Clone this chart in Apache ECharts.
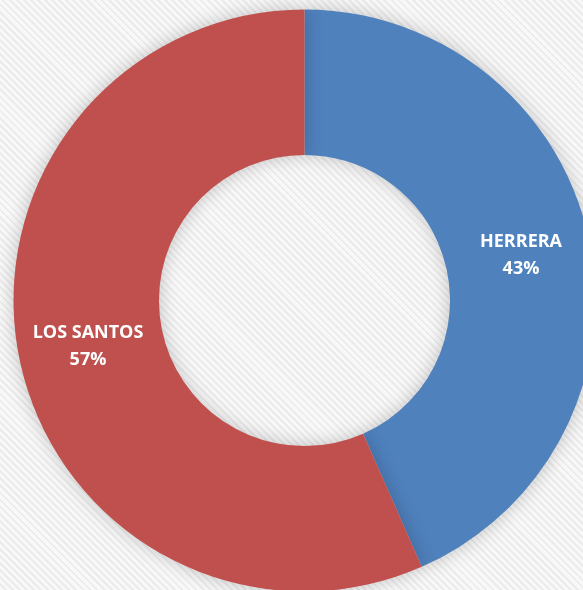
<!DOCTYPE html>
<html>
<head>
<meta charset="utf-8">
<script src="https://cdn.jsdelivr.net/npm/echarts@6/dist/echarts.min.js"></script>
<style>
  html, body { margin: 0; padding: 0; }
  #chart {
    width: 583px; height: 590px;
    background: repeating-linear-gradient(45deg, #f8f8f8 0px, #f8f8f8 3px, #ebebeb 3px, #ebebeb 5px);
  }
</style>
</head>
<body>
<div id="chart"></div>
<script>
const names = ['HERRERA', 'LOS SANTOS'];
const values = [43.4, 56.6];
const colors = ['#4F81BD', '#C0504D'];

const chart = echarts.init(document.getElementById('chart'));

chart.setOption({
    backgroundColor: 'transparent',
    animation: false,
    series: [
        {
            type: 'pie',
            center: [304.5, 300.5],
            radius: [145.5, 291],
            startAngle: 90,
            clockwise: true,
            data: names.map((n, i) => ({
                name: n,
                value: values[i],
                itemStyle: { color: colors[i] }
            })),
            itemStyle: {
                shadowBlur: 18,
                shadowColor: 'rgba(0,0,0,0.22)'
            },
            label: {
                position: 'inside',
                color: '#fff',
                fontFamily: 'Open Sans',
                fontWeight: 'bold',
                fontSize: 18,
                lineHeight: 27,
                formatter: p => p.name + '\n' + Math.round(p.percent) + '%'
            },
            labelLine: { show: false },
            emphasis: { disabled: true }
        }
    ]
});
</script>
</body>
</html>
